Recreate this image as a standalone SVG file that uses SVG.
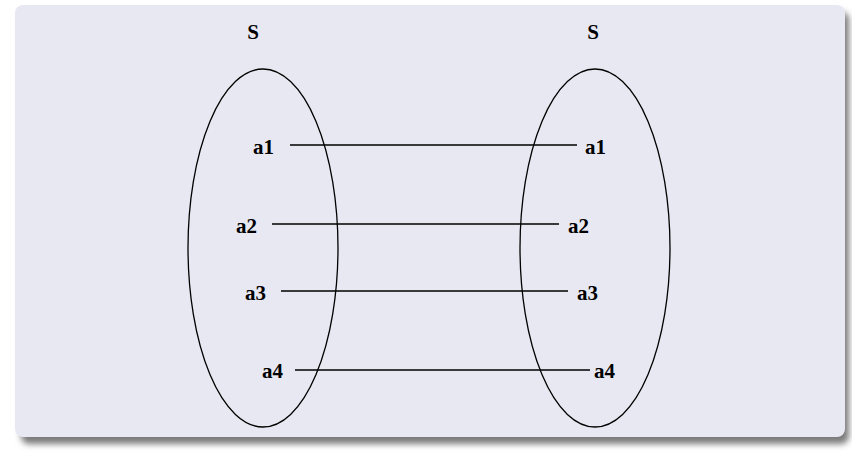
<svg xmlns="http://www.w3.org/2000/svg" width="852" height="453" viewBox="0 0 852 453">
<defs>
<filter id="sh" x="-5%" y="-5%" width="110%" height="115%">
<feGaussianBlur stdDeviation="3"/>
</filter>
</defs>
<style>
text{font-family:"Liberation Serif","Times New Roman",serif;font-weight:bold;font-size:21px;fill:#000}
.set{fill:none;stroke:#000;stroke-width:1.3}
.con line{stroke:#000;stroke-width:1.6}
</style>
<rect x="0" y="0" width="852" height="453" fill="#ffffff"/>
<rect x="21" y="12" width="828" height="432" rx="8" fill="#7a7a7a" filter="url(#sh)"/>
<rect x="15" y="5" width="830" height="432" rx="8" fill="#e8e8f2"/>
<g id="setLeft">
<ellipse class="set" cx="263" cy="248" rx="75" ry="179"/>
<text x="253" y="39" text-anchor="middle">S</text>
</g>
<g id="setRight">
<ellipse class="set" cx="595" cy="248" rx="75" ry="179"/>
<text x="593" y="39" text-anchor="middle">S</text>
</g>
<g id="l-a1"><text x="253" y="154">a1</text></g>
<g id="l-a2"><text x="236" y="233">a2</text></g>
<g id="l-a3"><text x="245" y="300">a3</text></g>
<g id="l-a4"><text x="262" y="378">a4</text></g>
<g id="r-a1"><text x="585" y="154">a1</text></g>
<g id="r-a2"><text x="568" y="233">a2</text></g>
<g id="r-a3"><text x="577" y="300">a3</text></g>
<g id="r-a4"><text x="594" y="378">a4</text></g>
<g class="con" id="connectors">
<line x1="290" y1="145" x2="577" y2="145"/>
<line x1="272" y1="224" x2="559" y2="224"/>
<line x1="281" y1="291" x2="568" y2="291"/>
<line x1="295" y1="370" x2="590" y2="370"/>
</g>
</svg>
